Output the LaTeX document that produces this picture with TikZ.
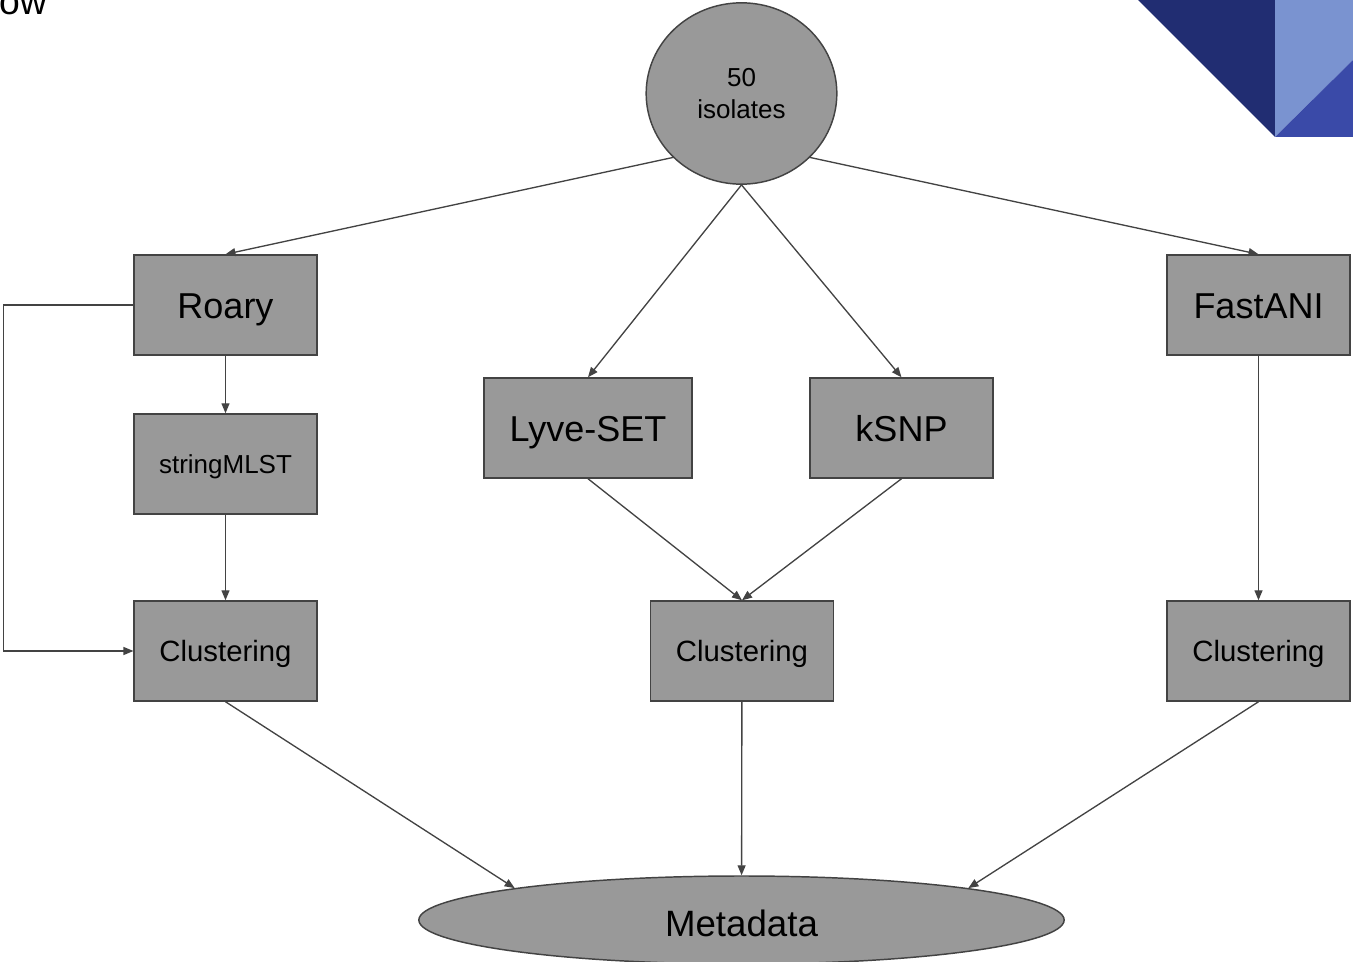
\documentclass[tikz,border=0pt]{standalone}
\usepackage{fontspec}
\setmainfont{Liberation Sans}
\usetikzlibrary{positioning, arrows.meta, shapes.geometric}

\definecolor{boxgray}{HTML}{999999}
\definecolor{linegray}{HTML}{434343}
\definecolor{navyblue}{HTML}{212D72}
\definecolor{paleblue}{HTML}{7A93D0}
\definecolor{midblue}{HTML}{3A4AA8}

\begin{document}
\begin{tikzpicture}[
    x=0.75pt, y=-0.75pt,
    tool/.style={rectangle, draw=linegray, fill=boxgray, line width=1.1pt,
                 minimum width=137pt, minimum height=75pt, align=center,
                 text height=26pt, text depth=5.7pt,
                 font=\fontsize{27}{32}\selectfont},
    minor/.style={tool, text height=19.1pt, text depth=4.1pt, font=\fontsize{19.5}{23.5}\selectfont},
    clust/.style={tool, text height=20.5pt, text depth=4.6pt, font=\fontsize{22}{26}\selectfont},
    blob/.style={ellipse, draw=linegray, fill=boxgray, line width=1.1pt, inner sep=0pt, align=center},
    arrow/.style={-{Triangle[length=7.5pt,width=6pt]}, draw=linegray, line width=1pt}
]
\useasboundingbox (0,0) rectangle (1353,962);

% --- Corner decoration ---
\fill[navyblue] (1138,0) -- (1275,0) -- (1275,137) -- cycle;
\fill[paleblue] (1275,0) -- (1353,0) -- (1353,60) -- (1275,137) -- cycle;
\fill[midblue] (1275,137) -- (1353,60) -- (1353,137) -- cycle;
\node[anchor=base east, inner sep=0pt, font=\fontsize{28}{32}\selectfont] (title) at (47,15) {ow};

% --- Start and end ---
\node[blob, minimum width=143pt, minimum height=136pt, font=\fontsize{19.5}{23.5}\selectfont] (isolates) at (741.5,93.5) {50\\isolates};
\node[blob, minimum width=484pt, minimum height=66pt, text height=31pt, text depth=5.8pt,
      font=\fontsize{27.5}{32}\selectfont] (meta) at (741.5,920) {Metadata};

% --- Tools ---
\node[tool] (roary) at (225.5,305) {Roary};
\node[minor] (mlst) at (225.5,464) {stringMLST};
\node[clust] (clleft) at (225.5,651) {Clustering};

\node[tool, minimum width=156pt] (lyve) at (588,428) {Lyve-SET};
\node[tool] (ksnp) at (901.5,428) {kSNP};
\node[clust] (clmid) at (742,651) {Clustering};

\node[tool] (fastani) at (1258.5,305) {FastANI};
\node[clust] (clright) at (1258.5,651) {Clustering};

% --- Arrows ---
\draw[arrow] (isolates.223) -- (roary.north);
\draw[arrow] (isolates.317) -- (fastani.north);
\draw[arrow] (isolates.south) -- (lyve.north);
\draw[arrow] (isolates.south) -- (ksnp.north);

\draw[arrow] (roary) -- (mlst);
\draw[arrow] (mlst) -- (clleft);
\draw[arrow] (roary.west) -- ++(-130,0) |- (clleft.west);

\draw[arrow] (lyve.south) -- (clmid.north);
\draw[arrow] (ksnp.south) -- (clmid.north);
\draw[arrow] (fastani) -- (clright);

\draw[arrow] (clleft.south) -- (meta.172);
\draw[arrow] (clmid) -- (meta);
\draw[arrow] (clright.south) -- (meta.8);
\end{tikzpicture}
\end{document}
